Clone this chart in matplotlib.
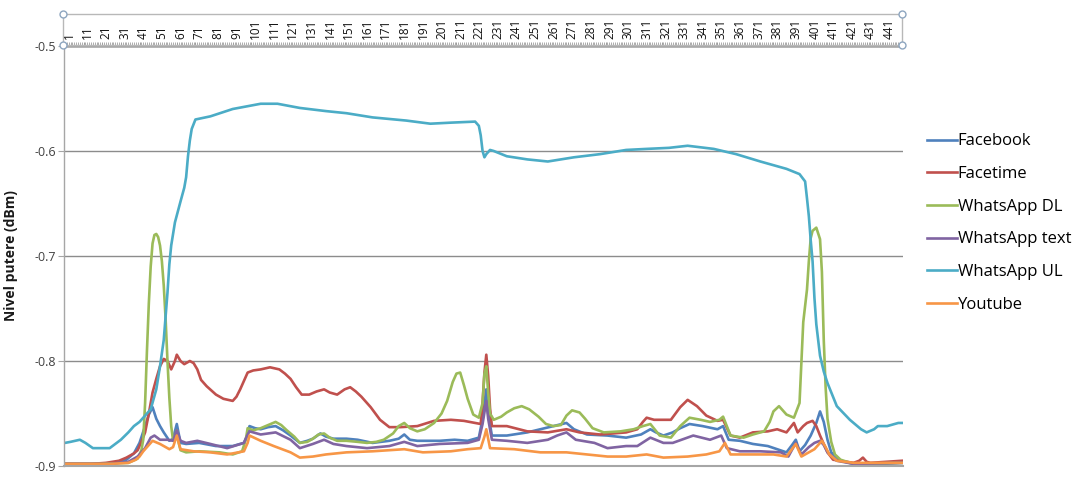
import matplotlib
matplotlib.use("Agg")
import matplotlib.pyplot as plt
from matplotlib.lines import Line2D
from matplotlib.patches import Rectangle
import matplotlib.transforms as mtransforms

plt.rcParams['font.family'] = ['Open Sans', 'DejaVu Sans']
plt.rcParams['axes.unicode_minus'] = False

# ---------------- data ----------------
categories = list(range(1, 451))
tick_labels = [str(i) for i in range(1, 451, 10)]

facebook_x = [1, 20, 28, 34, 38, 41, 44, 46, 48, 50, 52, 54, 57, 59, 61, 63, 66, 73, 82, 91, 97, 99, 100, 103, 106, 110, 114, 118, 122, 127, 131, 134, 138, 141, 145, 152, 158, 166, 175, 180, 183, 186, 190, 202, 210, 217, 223, 225, 227, 228, 230, 238, 249, 256, 263, 270, 274, 281, 292, 302, 310, 315, 318, 322, 327, 331, 336, 343, 351, 354, 357, 363, 370, 378, 383, 388, 391, 393, 395, 398, 401, 404, 406, 408, 410, 412, 417, 424, 440, 450]
facebook_y = [-0.898, -0.898, -0.897, -0.894, -0.888, -0.878, -0.862, -0.851, -0.844, -0.855, -0.862, -0.868, -0.876, -0.874, -0.860, -0.878, -0.879, -0.878, -0.881, -0.881, -0.878, -0.870, -0.862, -0.864, -0.865, -0.863, -0.862, -0.866, -0.871, -0.878, -0.876, -0.874, -0.869, -0.872, -0.874, -0.874, -0.875, -0.878, -0.876, -0.874, -0.870, -0.875, -0.876, -0.876, -0.875, -0.876, -0.873, -0.855, -0.827, -0.850, -0.871, -0.871, -0.868, -0.865, -0.862, -0.859, -0.865, -0.870, -0.871, -0.873, -0.870, -0.865, -0.868, -0.871, -0.868, -0.864, -0.860, -0.862, -0.865, -0.862, -0.875, -0.876, -0.879, -0.881, -0.884, -0.887, -0.880, -0.875, -0.886, -0.880, -0.871, -0.859, -0.848, -0.858, -0.875, -0.887, -0.895, -0.898, -0.898, -0.897]

facetime_x = [1, 15, 23, 30, 34, 38, 40, 42, 44, 46, 48, 50, 52, 54, 56, 58, 60, 61, 63, 65, 68, 70, 72, 74, 77, 82, 86, 91, 93, 95, 97, 99, 102, 106, 111, 116, 119, 122, 125, 128, 132, 136, 140, 143, 147, 151, 154, 157, 160, 165, 170, 175, 181, 190, 199, 208, 215, 221, 224, 225, 226, 227, 228, 229, 230, 238, 249, 260, 270, 277, 288, 302, 308, 311, 313, 317, 326, 331, 335, 340, 345, 351, 354, 358, 363, 370, 378, 383, 388, 392, 394, 397, 399, 402, 404, 406, 410, 413, 424, 427, 429, 431, 433, 450]
facetime_y = [-0.898, -0.898, -0.897, -0.895, -0.892, -0.888, -0.885, -0.877, -0.868, -0.850, -0.830, -0.817, -0.805, -0.798, -0.800, -0.808, -0.800, -0.794, -0.800, -0.803, -0.800, -0.802, -0.808, -0.818, -0.824, -0.832, -0.836, -0.838, -0.834, -0.827, -0.819, -0.811, -0.809, -0.808, -0.806, -0.808, -0.812, -0.817, -0.825, -0.832, -0.832, -0.829, -0.827, -0.830, -0.832, -0.827, -0.825, -0.829, -0.834, -0.844, -0.856, -0.863, -0.863, -0.862, -0.857, -0.856, -0.857, -0.859, -0.860, -0.840, -0.811, -0.794, -0.814, -0.845, -0.862, -0.862, -0.867, -0.868, -0.865, -0.868, -0.870, -0.868, -0.865, -0.858, -0.854, -0.856, -0.856, -0.844, -0.837, -0.843, -0.852, -0.857, -0.856, -0.871, -0.873, -0.868, -0.867, -0.865, -0.868, -0.859, -0.868, -0.862, -0.859, -0.857, -0.862, -0.871, -0.887, -0.894, -0.897, -0.895, -0.892, -0.896, -0.897, -0.895]

wa_dl_x = [1, 20, 35, 40, 42, 43, 44, 45, 46, 47, 48, 49, 50, 51, 52, 53, 54, 55, 56, 57, 58, 59, 60, 61, 62, 63, 66, 73, 84, 91, 96, 98, 99, 102, 106, 110, 114, 117, 120, 124, 127, 131, 134, 137, 140, 143, 147, 152, 158, 163, 168, 172, 177, 180, 183, 186, 190, 194, 199, 203, 206, 209, 211, 213, 215, 217, 220, 223, 225, 226, 227, 228, 229, 231, 235, 238, 242, 246, 250, 255, 259, 263, 267, 270, 273, 277, 280, 284, 290, 299, 306, 311, 315, 320, 326, 331, 336, 342, 347, 352, 354, 358, 365, 370, 376, 379, 381, 384, 388, 392, 395, 397, 399, 400, 401, 402, 404, 406, 407, 408, 409, 410, 412, 414, 417, 424, 450]
wa_dl_y = [-0.898, -0.898, -0.897, -0.893, -0.885, -0.875, -0.840, -0.790, -0.745, -0.710, -0.688, -0.680, -0.679, -0.682, -0.690, -0.705, -0.728, -0.760, -0.800, -0.835, -0.862, -0.876, -0.874, -0.866, -0.878, -0.885, -0.887, -0.886, -0.887, -0.889, -0.886, -0.875, -0.864, -0.866, -0.864, -0.861, -0.858, -0.861, -0.866, -0.872, -0.878, -0.877, -0.874, -0.870, -0.869, -0.873, -0.876, -0.876, -0.877, -0.878, -0.877, -0.875, -0.869, -0.862, -0.859, -0.864, -0.867, -0.865, -0.859, -0.850, -0.838, -0.820, -0.812, -0.811, -0.823, -0.836, -0.851, -0.854, -0.840, -0.812, -0.805, -0.830, -0.850, -0.856, -0.853, -0.849, -0.845, -0.843, -0.846, -0.853, -0.860, -0.862, -0.861, -0.852, -0.847, -0.849, -0.855, -0.864, -0.868, -0.867, -0.865, -0.862, -0.860, -0.871, -0.873, -0.862, -0.854, -0.856, -0.858, -0.856, -0.853, -0.871, -0.873, -0.870, -0.867, -0.858, -0.848, -0.843, -0.851, -0.854, -0.840, -0.763, -0.732, -0.705, -0.683, -0.676, -0.673, -0.684, -0.715, -0.780, -0.825, -0.855, -0.877, -0.889, -0.894, -0.898, -0.897]

wa_text_x = [1, 25, 35, 40, 44, 47, 49, 52, 56, 59, 61, 63, 66, 72, 79, 88, 97, 99, 100, 106, 114, 122, 127, 134, 140, 145, 152, 163, 175, 183, 190, 202, 217, 223, 225, 227, 228, 230, 238, 249, 260, 265, 270, 275, 285, 292, 302, 308, 315, 322, 327, 338, 347, 353, 356, 363, 374, 385, 389, 393, 396, 400, 403, 406, 408, 410, 415, 424, 450]
wa_text_y = [-0.898, -0.898, -0.896, -0.891, -0.883, -0.873, -0.871, -0.875, -0.875, -0.876, -0.866, -0.876, -0.878, -0.876, -0.879, -0.883, -0.878, -0.870, -0.867, -0.870, -0.868, -0.875, -0.883, -0.879, -0.875, -0.879, -0.881, -0.883, -0.881, -0.877, -0.881, -0.879, -0.878, -0.875, -0.860, -0.838, -0.855, -0.875, -0.876, -0.878, -0.875, -0.871, -0.868, -0.875, -0.878, -0.883, -0.881, -0.881, -0.873, -0.878, -0.878, -0.871, -0.875, -0.871, -0.883, -0.886, -0.886, -0.887, -0.891, -0.878, -0.889, -0.882, -0.878, -0.876, -0.880, -0.887, -0.895, -0.898, -0.897]

wa_ul_x = [1, 4, 9, 12, 16, 20, 25, 28, 31, 35, 38, 41, 43, 47, 50, 52, 54, 56, 57, 58, 60, 63, 65, 66, 67, 68, 69, 71, 79, 91, 100, 106, 115, 127, 141, 152, 166, 184, 197, 208, 221, 223, 224, 225, 226, 227, 229, 231, 238, 249, 260, 274, 288, 302, 313, 325, 335, 349, 361, 374, 388, 395, 398, 399, 400, 401, 402, 403, 404, 406, 408, 410, 415, 422, 428, 431, 435, 437, 442, 448, 450]
wa_ul_y = [-0.878, -0.877, -0.875, -0.878, -0.883, -0.883, -0.883, -0.879, -0.875, -0.868, -0.862, -0.858, -0.854, -0.846, -0.827, -0.805, -0.780, -0.735, -0.708, -0.690, -0.668, -0.648, -0.635, -0.625, -0.605, -0.590, -0.579, -0.570, -0.567, -0.560, -0.557, -0.555, -0.555, -0.559, -0.562, -0.564, -0.568, -0.571, -0.574, -0.573, -0.572, -0.576, -0.585, -0.600, -0.606, -0.603, -0.599, -0.600, -0.605, -0.608, -0.610, -0.606, -0.603, -0.599, -0.598, -0.597, -0.595, -0.598, -0.603, -0.610, -0.617, -0.622, -0.629, -0.645, -0.662, -0.685, -0.705, -0.740, -0.765, -0.795, -0.810, -0.821, -0.843, -0.856, -0.865, -0.868, -0.865, -0.862, -0.862, -0.859, -0.859]

youtube_x = [1, 25, 35, 39, 41, 43, 45, 48, 52, 57, 59, 61, 63, 70, 79, 88, 97, 99, 100, 106, 113, 122, 127, 134, 141, 152, 166, 183, 193, 208, 217, 224, 226, 227, 228, 229, 242, 256, 270, 281, 292, 302, 313, 322, 335, 345, 352, 355, 358, 370, 381, 388, 393, 396, 400, 403, 407, 409, 411, 415, 424, 450]
youtube_y = [-0.898, -0.898, -0.897, -0.894, -0.891, -0.886, -0.882, -0.876, -0.879, -0.884, -0.882, -0.871, -0.884, -0.886, -0.887, -0.889, -0.886, -0.878, -0.871, -0.876, -0.881, -0.887, -0.892, -0.891, -0.889, -0.887, -0.886, -0.884, -0.887, -0.886, -0.884, -0.883, -0.872, -0.865, -0.874, -0.883, -0.884, -0.887, -0.887, -0.889, -0.891, -0.891, -0.889, -0.892, -0.891, -0.889, -0.886, -0.878, -0.889, -0.889, -0.889, -0.891, -0.879, -0.891, -0.887, -0.884, -0.876, -0.882, -0.889, -0.895, -0.897, -0.897]

series_names = ["Facebook", "Facetime", "WhatsApp DL", "WhatsApp text", "WhatsApp UL", "Youtube"]
series_colors = ["#4F81BD", "#C0504D", "#9BBB59", "#8064A2", "#4BACC6", "#F79646"]
series_data = [(facebook_x, facebook_y), (facetime_x, facetime_y), (wa_dl_x, wa_dl_y),
               (wa_text_x, wa_text_y), (wa_ul_x, wa_ul_y), (youtube_x, youtube_y)]

y_ticks = [-0.9, -0.8, -0.7, -0.6, -0.5]

# ---------------- figure ----------------
W, H = 1081, 501
fig = plt.figure(figsize=(W / 100, H / 100), dpi=100)
L, R, T, B = 64, 903, 46, 466
ax = fig.add_axes([L / W, 1 - B / H, (R - L) / W, (B - T) / H])

for (xs, ys), name, col in zip(series_data, series_names, series_colors):
    ax.plot(xs, ys, color=col, lw=1.9, label=name, solid_joinstyle='round')

ax.set_xlim(0.5, len(categories) + 0.5)
ax.set_ylim(-0.9, -0.5)

# gridlines
ax.set_yticks(y_ticks)
ax.set_yticklabels([f"{v:.1f}" for v in y_ticks])
ax.yaxis.grid(True, color="#8c8c8c", lw=1.0)
ax.set_axisbelow(True)

# spines
ax.spines["right"].set_visible(False)
ax.spines["top"].set_color("#a6a6a6")
ax.spines["top"].set_linewidth(1.8)
ax.spines["left"].set_color("#a6a6a6")
ax.spines["left"].set_linewidth(1.0)
ax.spines["bottom"].set_color("#a6a6a6")
ax.spines["bottom"].set_linewidth(1.5)

# x axis on top
ax.xaxis.tick_top()
ax.set_xticks(list(range(1, 451, 10)))
ax.set_xticklabels(tick_labels, rotation=90, fontsize=8.5, color="#111111")
ax.set_xticks(categories, minor=True)
ax.tick_params(axis="x", which="major", length=3, width=0.6, color="#8c8c8c", pad=2)
ax.tick_params(axis="x", which="minor", length=3, width=0.5, color="#8c8c8c")
offset = mtransforms.ScaledTranslation(4 / 100, 0, fig.dpi_scale_trans)
for lab in ax.get_xticklabels():
    lab.set_transform(lab.get_transform() + offset)

ax.tick_params(axis="y", length=4, width=0.8, color="#a6a6a6", pad=2,
               labelsize=9, labelcolor="#404040")

ax.set_ylabel("Nivel putere (dBm)", fontsize=10, fontweight="bold", color="#1a1a1a")
ax.yaxis.set_label_coords((18 - L) / (R - L), 0.5)

# selection frame around the category axis (Excel look)
fx0, fx1 = 63 / W, 902 / W
fy0, fy1 = 1 - 45 / H, 1 - 14 / H
fig.add_artist(Rectangle((fx0, fy0), fx1 - fx0, fy1 - fy0, fill=False,
                         edgecolor="#b8b8b8", lw=1.0, transform=fig.transFigure))
for cx, cy in [(fx0, fy0), (fx0, fy1), (fx1, fy0), (fx1, fy1)]:
    fig.add_artist(Line2D([cx], [cy], marker="o", markersize=5, mfc="white",
                          mec="#8ea6c0", mew=1.0, transform=fig.transFigure))

# legend
fig.legend(loc="center left", bbox_to_anchor=(927 / W, 1 - 223 / H),
           frameon=False, fontsize=12, handlelength=1.8, handletextpad=0.05,
           labelspacing=1.0, borderpad=0, borderaxespad=0)

fig.savefig("out.png", dpi=100)
